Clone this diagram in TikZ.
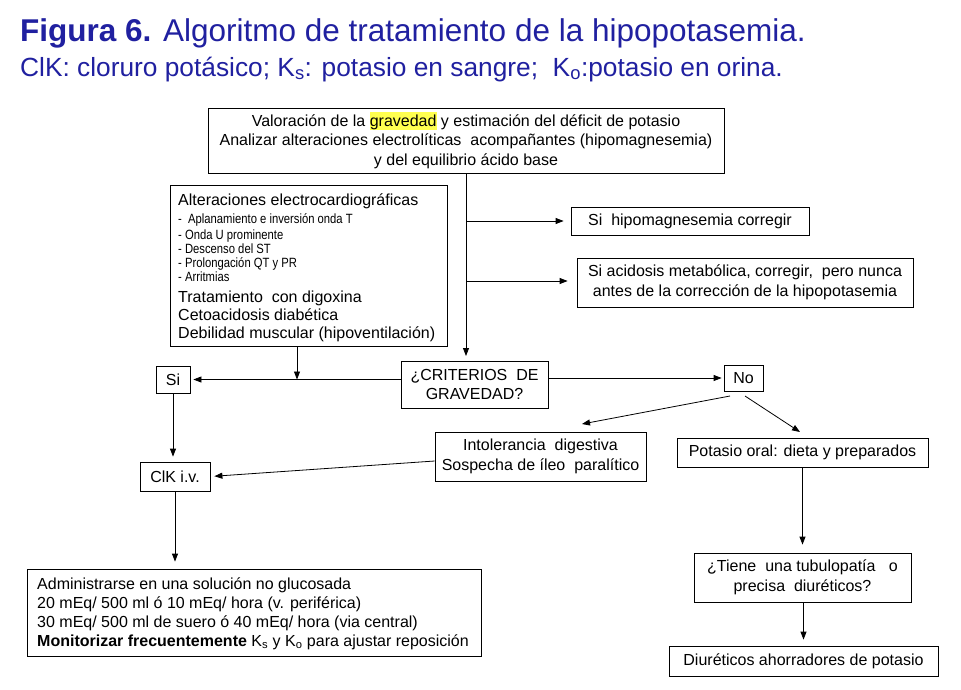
\documentclass[tikz,border=0pt]{standalone}
\usepackage{fontspec}
\setmainfont{Liberation Sans}
\newfontfamily\condfont[FakeStretch=0.84]{Liberation Sans}
\usetikzlibrary{arrows.meta,calc}
\definecolor{titleblue}{RGB}{32,32,160}
\definecolor{hlyellow}{RGB}{255,255,80}
\newcommand\hlword[1]{{\setlength{\fboxsep}{0pt}\colorbox{hlyellow}{\vphantom{Áy}#1}}}
\begin{document}
\begin{tikzpicture}[x=1pt,y=-1pt,
  box/.style={draw, line width=0.8pt, inner sep=0pt, align=center, font=\fontsize{16}{19.5}\selectfont},
  arr/.style={draw, line width=0.8pt, -{Triangle[length=8pt,width=6pt]}},
  big/.style={anchor=base west, inner sep=0pt, font=\fontsize{16}{18}\selectfont},
  small/.style={anchor=base west, inner sep=0pt, font=\condfont\fontsize{13.4}{14}\selectfont}]
\useasboundingbox[fill=white] (0,0) rectangle (961,689);
% titles
\node[anchor=base west, inner sep=0pt, text=titleblue, font=\fontsize{31.5}{33}\selectfont] (title) at (20,41)
  {\textbf{Figura 6.} Algoritmo de tratamiento de la hipopotasemia.};
\node[anchor=base west, inner sep=0pt, text=titleblue, font=\fontsize{26.3}{28}\selectfont] (subtitle) at (20,76)
  {ClK: cloruro potásico; K\textsubscript{s}: potasio en sangre;\ \ K\textsubscript{o}:potasio en orina.};
% boxes
\node[box, minimum width=516pt, minimum height=65pt] (top) at (466,140.5)
  {Valoración de la \hlword{gravedad} y estimación del déficit de potasio\\
   Analizar alteraciones electrolíticas\ \ acompañantes (hipomagnesemia)\\
   y del equilibrio ácido base};
\node[box, minimum width=277pt, minimum height=161pt] (ecg) at (308.5,265.5) {};
\node[big] (e1) at (178,205) {Alteraciones electrocardiográficas};
\node[small] (e2) at (178,223.5) {-\ \ Aplanamiento e inversión onda T};
\node[small] (e3) at (178,239) {- Onda U prominente};
\node[small] (e4) at (178,253) {- Descenso del ST};
\node[small] (e5) at (178,267) {- Prolongación QT y PR};
\node[small] (e6) at (178,281) {- Arritmias};
\node[big] (e7) at (178,302) {Tratamiento\ \ con digoxina};
\node[big] (e8) at (178,320) {Cetoacidosis diabética};
\node[big] (e9) at (178,338) {Debilidad muscular (hipoventilación)};
\node[box, minimum width=238pt, minimum height=28pt] (hypo) at (690,221) {Si\ \ hipomagnesemia corregir};
\node[box, minimum width=336pt, minimum height=49pt] (acid) at (745,282.5)
  {Si acidosis metabólica, corregir,\ \ pero nunca\\ antes de la corrección de la hipopotasemia};
\node[box, minimum width=147pt, minimum height=47pt] (crit) at (474.5,384.5) {¿CRITERIOS\ \ DE\\ GRAVEDAD?};
\node[box, minimum width=34pt, minimum height=27pt] (si) at (173,379.5) {Si};
\node[box, minimum width=39pt, minimum height=26pt] (no) at (743.5,378) {No};
\node[box, minimum width=211pt, minimum height=49pt] (intol) at (540.5,456.5)
  {Intolerancia\ \ digestiva\\ Sospecha de íleo\ \ paralítico};
\node[box, minimum width=251pt, minimum height=29pt] (pot) at (802.5,452.5) {Potasio oral: dieta y preparados};
\node[box, minimum width=70pt, minimum height=29pt] (cik) at (175,476.5) {ClK i.v.};
\node[box, minimum width=454pt, minimum height=87pt] (admin) at (254,612.5) {};
\node[big] (a1) at (37,589) {Administrarse en una solución no glucosada};
\node[big] (a2) at (37,608) {20 mEq/ 500 ml ó 10 mEq/ hora (v. periférica)};
\node[big] (a3) at (37,627) {30 mEq/ 500 ml de suero ó 40 mEq/ hora (via central)};
\node[big] (a4) at (37,646) {\textbf{Monitorizar frecuentemente} K\textsubscript{s} y K\textsubscript{o} para ajustar reposición};
\node[box, minimum width=217pt, minimum height=49pt] (tub) at (802.5,577.5)
  {¿Tiene\ \ una tubulopatía\ \ \ o\\ precisa\ \ diuréticos?};
\node[box, minimum width=269pt, minimum height=30pt] (diur) at (803.5,661) {Diuréticos ahorradores de potasio};
% coordinates
\coordinate (vend) at (466,356);
\coordinate (b1) at (466,221);
\coordinate (b2) at (466,281);
\coordinate (ecgout) at (297,346);
\coordinate (noL) at (730,396);
\coordinate (noR) at (745,396);
\coordinate (intolT) at (582,424);
\coordinate (potT) at (800,432);
% connectors
\draw[arr] (top.south) -- (vend);
\draw[arr, shorten >=7pt] (b1) -- (hypo.west);
\draw[arr, shorten >=9pt] (b2) -- (acid.west |- b2);
\draw[arr, shorten >=3pt] (crit.west |- si.east) -- (si.east);
\draw[arr] (ecgout) -- (ecgout |- si);
\draw[arr, shorten >=2pt] (crit.east |- no.west) -- (no.west);
\draw[arr] (noL) -- (intolT);
\draw[arr] (noR) -- (potT);
\draw[arr, shorten >=5pt] (si.south) -- (si.south |- cik.north);
\draw[arr, shorten >=4pt] ($(intol.west)+(0,4.5)$) -- (cik.east);
\draw[arr, shorten >=7pt] (cik.south) -- (cik.south |- admin.north);
\draw[arr, shorten >=8pt] (pot.south) -- (pot.south |- tub.north);
\draw[arr, shorten >=6pt] (tub.south -| diur.north) -- (diur.north);
\end{tikzpicture}
\end{document}
